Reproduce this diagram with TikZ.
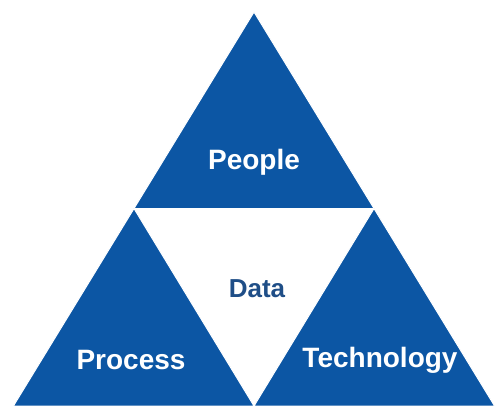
\documentclass[tikz,border=0pt]{standalone}
\usepackage{fontspec}
\setmainfont{Liberation Sans}
\definecolor{triblue}{RGB}{12,86,164}
\definecolor{datablue}{RGB}{31,78,135}

\begin{document}
\begin{tikzpicture}[
    x=1pt, y=1pt,
    part/.style={fill=triblue,draw=white,line width=1pt,line join=miter},
    label/.style={text=white,font=\bfseries\fontsize{28}{30}\selectfont}]
    \useasboundingbox (0, 0) rectangle (495, 405);

    % Ecken
    \coordinate (top) at (254, 393);
    \coordinate (bl) at (13.4, -1);
    \coordinate (br) at (494.6, -1);
    \coordinate (ml) at (134, 196.5);
    \coordinate (mr) at (374, 196.5);
    \coordinate (mb) at (254, -1);

    % Dreiecke
    \draw[part] (top) -- (mr) -- (ml) -- cycle;
    \draw[part] (ml) -- (mb) -- (bl) -- cycle;
    \draw[part] (mr) -- (br) -- (mb) -- cycle;

    % Beschriftungen
    \node[label] (people) at (254, 243) {People};
    \node[label] (process) at (131, 45) {Process};
    \node[label] (technology) at (380, 45) {Technology};
    \node[text=datablue,font=\bfseries\fontsize{26}{28}\selectfont] (data) at (257, 116) {Data};
\end{tikzpicture}
\end{document}
